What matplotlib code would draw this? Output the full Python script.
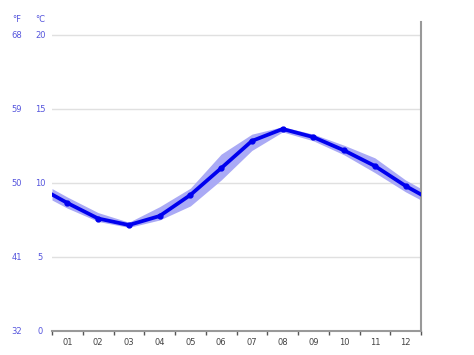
import matplotlib
matplotlib.use("Agg")
import matplotlib.pyplot as plt
import numpy as np

months = ["01", "02", "03", "04", "05", "06", "07", "08", "09", "10", "11", "12"]
temp_mean = [8.65, 7.6, 7.16, 7.77, 9.19, 11.0, 12.84, 13.65, 13.1, 12.2, 11.15, 9.8]
temp_high = [9.05, 8.0, 7.35, 8.4, 9.65, 11.95, 13.3, 13.8, 13.3, 12.55, 11.7, 10.2]
temp_low = [8.3, 7.4, 7.0, 7.5, 8.45, 10.2, 12.2, 13.45, 12.85, 11.9, 10.7, 9.4]
c_ticks = [0, 5, 10, 15, 20]
f_labels = ["32", "41", "50", "59", "68"]

W, H = 474, 355
fig = plt.figure(figsize=(W / 100, H / 100), dpi=100)
ax = fig.add_axes([52 / W, (H - 331) / H, (421 - 52) / W, (331 - 22) / H])

n = len(months)
xc = np.arange(n) + 0.5

def wrap(v):
    v = list(v)
    edge = (v[0] + v[-1]) / 2
    return np.array([edge] + v + [edge])

xs = np.concatenate([[0], xc, [n]])
ax.fill_between(xs, wrap(temp_low), wrap(temp_high), color="#aaaaf5", lw=0, zorder=2)
ax.plot(xs, wrap(temp_mean), color="#0000ee", lw=2.7, solid_joinstyle="round", zorder=3)
ax.plot(xc, temp_mean, "o", color="#0000ee", ms=3.5, zorder=4)

ymax = (331 - 22) / 14.8
ax.set_xlim(0, n)
ax.set_ylim(0, ymax)

for c in c_ticks[1:]:
    ax.axhline(c, color="#e0e0e0", lw=1, zorder=1)

for s in ["top", "left"]:
    ax.spines[s].set_visible(False)
ax.spines["right"].set_color("#999999")
ax.spines["right"].set_linewidth(1.5)
ax.spines["bottom"].set_color("#999999")
ax.spines["bottom"].set_linewidth(1.5)

ax.set_xticks(np.arange(n + 1))
ax.set_xticklabels([])
ax.tick_params(axis="x", which="major", length=3, width=1, color="#555555", direction="out")
ax.set_xticks(xc, minor=True)
ax.set_xticklabels(months, minor=True, fontsize=6, color="#444444")
ax.tick_params(axis="x", which="minor", length=0, pad=5)
ax.set_yticks([])

lab_col = "#5555dd"
for c, f in zip(c_ticks, f_labels):
    fig.text(40.5 / W, 1 - (331 - c * 14.8) / H, str(c), ha="center", va="center",
             fontsize=6, color=lab_col)
    fig.text(17 / W, 1 - (331 - c * 14.8) / H, f, ha="center", va="center",
             fontsize=6, color=lab_col)
fig.text(17 / W, 1 - 20 / H, "°F", ha="center", va="center", fontsize=6, color=lab_col)
fig.text(40.5 / W, 1 - 20 / H, "°C", ha="center", va="center", fontsize=6, color=lab_col)

fig.savefig("out.png", dpi=100)
